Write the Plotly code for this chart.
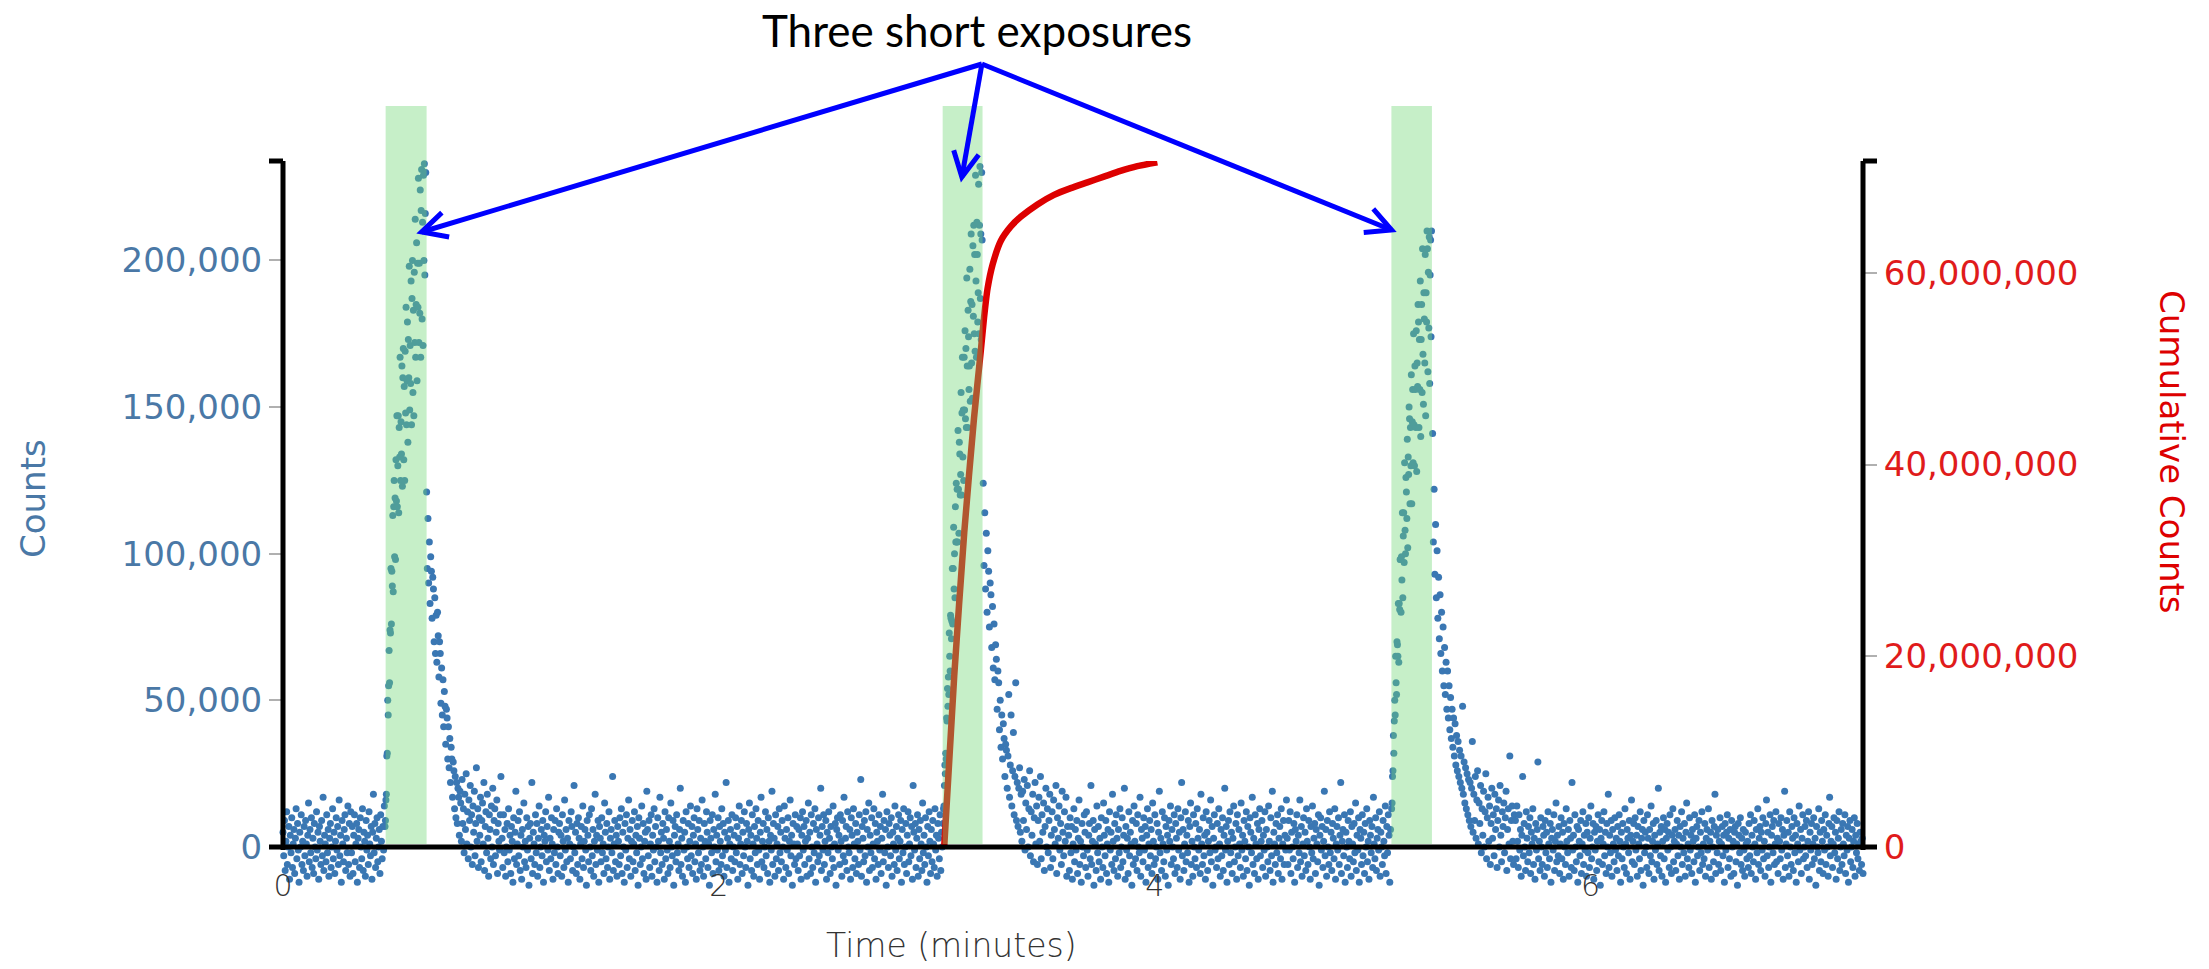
import numpy as np
import plotly.graph_objects as go

# ---------------- data (counts in thousands) ----------------
base_0 = [5, -3, 9, -8, 2, 12, -6, 0, 7, -11, 4, -2, 10, -7, 1, 6, -9, 3, 13, -4,
          8, -1, -12, 5, 0, 11, -6, 2, -8, 7, -3, 9, 1, -10, 4, 15, -5, 6, -2, 10,
          -7, 3, -9, 8, 0, -4, 12, -1, 5, -11, 7, 2, -6, 9, -3, 17, -8, 4, 1, -5,
          11, -2, 6, -10, 3, 8, -7, 0, 13, -4, 5, -9, 2, 10, -1, 7, -6, 16, -3, 4,
          -12, 9, 1, -5, 6, 11, -8, 3, -2, 14, -6, 8, -10, 12,
          -2, 7, -9, 4, 11, -5, 1, 8, -12, 3, 6, -7, 10, 0, -4, 13, -8, 5, 2, -10,
          9, -1, 4, -6, 12, 1, -3, 7, -11, 5, 18, -2, 8, -7, 3, 10, -5, 0, 6, -9,
          11, 2, -4, 7, -1, 14]
rise_1 = [7, 9, 16, 18, 31, 32, 50, 45, 55, 67, 56, 74, 73, 95, 76, 94, 89, 113, 87, 116,
          125, 99, 119, 98, 132, 118, 147, 116, 130, 147, 114, 143, 133, 167, 125, 145, 134, 164, 123, 160,
          170, 132, 157, 125, 169, 148, 184, 144, 159, 179, 138, 173, 160, 198, 149, 171, 158, 193, 144, 187,
          200, 155, 183, 147, 196, 172, 214, 167, 185, 206, 159, 199, 184, 228, 172, 199, 182, 224, 167, 217,
          231, 180, 213, 171, 229, 200, 233, 195, 216, 230]
decay_1 = [121, 95, 112, 90, 104, 83, 99, 94, 78, 92, 88, 70, 85, 66, 79, 63, 80, 72, 58, 70,
           66, 49, 61, 45, 57, 41, 53, 48, 35, 47, 44, 30, 41, 27, 37, 22, 34, 30, 17, 29,
           26, 13, 24, 10, 22, 8, 20, 17, 4, 19, 15, 2, 23, 8, 13, -2, 18, 6, 25, 1,
           12, -4, 16, 9, 21, 0, 11, -6, 14, 5, 19, -3, 8, 27, 2, 13, -7, 10, 4, 17,
           -5, 9, 15, 1, 22, -8, 7, 12, -2, 18, 3, -10, 11, 6, -4, 14, 0, 20, -6, 9,
           13, -3, 5, 16, -9, 8, 2, -1, 11, 24]
base_1 = [3, -7, 11, -2, 6, -10, 0, 8, -5, 13, -1, 4, -9, 7, 2, -12, 10, -4, 5, 19,
          -6, 1, 9, -3, 12, -8, 4, -11, 6, 0, 15, -5, 2, -7, 10, -1, 7, -13, 3, 8,
          -4, 22, -9, 5, 1, -6, 11, -2, 8, -10, 3, 14, -7, 0, 6, -3, 9, -12, 4, 2,
          12, -5, 7, -1, 17, -8, 3, -4, 10, 1, -11, 6, -2, 9, -6, 13, 0, -9, 5, 8,
          -3, 4, -10, 11, 2, -7, 16, -1, 6, -5, 3, -12, 9, 1, -4, 12, 7, -8, 0, 21,
          -2, 5, -9, 8, -6, 10, 3, -11, 1, 7, -4, 14, -7, 2, 6, -1, -13, 9, 4, -5,
          11, 0, -8, 13, -3, 6, -10, 2, 18, -6, 4, -1, 9, -12, 7, 3, -5, 10, -2, 1,
          -9, 15, 5, -4, 8, -7, 0, 12, -11, 3, 6, -2, 24, -8, 1, 9, -5, 4, -10, 7,
          2, -6, 10, -3, 13, -9, 5, 0, -12, 8, -1, 11, -7, 3, 16, -4, 6, -10, 2, 9,
          -5, 1, 12, -8, 4, -2, 7, -13, 10, 3, -6, 0, 14, -4, 8, -9, 2, 5, -11, 19,
          6, -3, 9, -7, 1, 11, -10, 4, -1, 13, -5, 7, 0, -12, 10, 2, -8, 17, -2, 5,
          -6, 8, 3, -11, 12, -4, 6, -1, -9, 10, 2, -7, 15, 0, -3, 9, -13, 4, 7, -5,
          11, -2, 1, -8, 6, 20, -6, 3, -10, 9, -1, 5, -12, 12, 0, -4, 8, -7, 2, 14,
          -3, 7, -9, 4, 10, -5, 1, -11, 13, 6, -2, 9, -8, 3, -6, 16, 0, -10, 8, 2,
          -4, 12, 5, -7, 1, -13, 9, 3, -2, 11, -9, 6, 0, 18, -5, 4, -1, 10, -8, 7,
          2, -6, 13, -3, 8, -10, 5, -1, 22, -7, 3, 9, -12, 1, 6, -4, 11, -8, 0, 4,
          -5, 10, -2, 7, -11, 3, 14, -6, 1, 9, -9, 5, -3, 12, 0, -7, 8, 2, -13, 6,
          15, -4, 4, -8, 11, 1, -10, 7, -2, 13, 3, -6, 9, -1, -11, 5, 17, -5, 2, 8,
          -7, 0, 12, -3, 6, -9, 10, 2, -12, 4, -1, 19, -6, 8, 3, -10, 11, -4, 1, 7,
          -8, 13, -2, 5, -5, 9, 0, -11, 14, 3, -7, 6, -1, 10, -9, 2, 16, -3, 4, -13,
          8, 1, -6, 11, -4, 7,
          1, -8, 6, -3, 10, -11, 4, 12, -1, 7, -6, 2, 9, -10, 3, 15, -4, 5, -9, 11,
          0, -7, 8, -2, 13, -12, 6, 1, -5, 10, -3, 4, 20, -8, 7, -1, 11, -6, 2, 9,
          -11, 5, -2, 12, 3, -9, 7, 0, -4, 14, -7, 1, 8, -13, 6, 10, -1, 4, -6, 11,
          2, -10, 9, -3, 17, -5, 3, 7, -8, 12, 0, -2, 6, -11, 10, 4, -7, 13, 1, -4,
          8, -9, 5, 2, -6, 11, -1, 23, -10, 7, 3, -5, 9, -3, 12, -12, 6, 0, 15, -8,
          4, -2, 10, -7, 1, 13, -4, 8, -11, 5, 2, -6, 11, -1, 7, -9, 3, 18, -5, 9,
          -2, 6, -13, 12, 0, -7, 8, 4, -3, 10, -10, 5, 1, -6, 14, -1, 7, -8, 3, 11,
          -4, 2, 9, -12, 6, -2, 13, -6, 0, 8, -9, 4, 12, -5, 1, 10, -3, 7, -11, 21,
          5, -1, 8, -7, 3, 11, -10, 6, -4, 9, 1, -8, 15, -2, 4, -6, 10, 0, -12, 7,
          -3, 12, 2, -9, 6, -5, 9, 1, -7, 13, -1, 4, -10, 8, 3, -4, 11, -8, 5, 0]
rise_2 = [8, 13, 14, 21, 28, 25, 32, 30, 44, 43, 54, 48, 58, 52, 73, 65, 60, 79, 78, 71,
          77, 95, 76, 95, 109, 88, 100, 85, 116, 104, 124, 104, 122, 104, 142, 122, 107, 138, 134, 120,
          127, 155, 120, 148, 167, 133, 149, 125, 167, 149, 176, 146, 170, 143, 194, 164, 143, 183, 174, 156,
          164, 197, 152, 186, 209, 165, 185, 153, 205, 181, 212, 175, 202, 169, 229, 193, 167, 213, 202, 179,
          189, 226, 175, 212, 232, 187, 209, 173, 230, 207]
decay_2 = [124, 96, 114, 88, 107, 80, 101, 94, 75, 90, 86, 68, 82, 61, 76, 57, 69, 64, 47, 60,
           56, 40, 50, 34, 45, 30, 42, 37, 24, 35, 33, 20, 31, 52, 17, 28, 45, 14, 26, 39,
           11, 24, 56, 9, 22, 7, 20, 27, 5, 18, 2, 19, 9, 23, -1, 15, 6, 21, 0, 13,
           26, -3, 12, 4, 18, -5, 10, 22, 1, 14, -6, 9, 17, 2, 24, -4, 11, 5, 15, -8,
           7, 20, 0, 13, -2, 9, 18, -7, 4, 12, -4, 16, 6, 1, 21, -9, 10, 3, 14, -1,
           8, -6, 19, 5, -3, 12, 2, 17, -10, 7]
base_2 = [4, -8, 10, -2, 7, -11, 1, 13, -5, 6, -1, 9, -9, 3, 16, -6, 2, -12, 8, 0,
          -3, 11, 5, -7, 12, -1, -10, 4, 8, -4, 21, -6, 2, 9, -13, 6, 1, -8, 14, -2,
          7, -5, 3, -11, 10, 0, -7, 15, 4, -3, 9, -9, 1, 6, -12, 12, -1, 5, -6, 18,
          2, -8, 8, -4, 11, 3, -10, 6, -2, 13, -7, 0, 10, -5, 4, 20, -11, 7, -1, 3,
          -9, 12, -3, 5, 1, -13, 9, -6, 14, 2, -4, 8, -8, 11, 0, -2, 17, -10, 6, 3,
          -5, 10, -1, 7, -12, 4, 13, -7, 1, 9, -3, 6, -9, 15, 2, -6, 11, -4, 0, 8,
          -11, 5, 19, -2, 3, -8, 12, 1, -5, 10, -10, 7, -1, 4, -13, 9, 2, 14, -6, 6,
          0, -4, 11, -9, 8, 3, -7, 13, -1, 5, -11, 10, 22, -3, 6, -8, 1, 12, -5, 4,
          -2, 9, -12, 7, 15, -6, 2, -10, 11, 0, -4, 8, -7, 13, 3, -1, 6, -9, 18, 1,
          -6, 10, -3, 4, -11, 12, 5, -8, 2, 9, -2, 16, -5, 7, -13, 3, 11, -1, 0, -7,
          8, -4, 13, 1, -10, 6, -3, 10, -8, 4, 20, -1, 7, -12, 2, 9, -6, 12, -2, 5,
          -9, 3, 14, -5, 0, 8, -11, 11, -3, 6, 1, -7, 15, -1, 4, -10, 9, 2, -4, 12,
          -8, 7, 0, -13, 10, 5, -2, 17, -6, 3, -9, 11, 1, -4, 8, -11, 6, 13, -3, 2,
          9, -7, 4, -1, 12, -10, 6, 0, -5, 14, 2, -8, 10, -3, 19, -12, 5, 1, -6, 8,
          -2, 11, -9, 3, 7, -4, 13, -11, 1, 9, -6, 4, -1, 16,
          3, -6, 9, -1, 12, -9, 5, 0, -4, 8, -12, 6, 2, 11, -7, 4, -2, 16, -5, 7,
          -10, 1, 10, -3, 5, -8, 13, 2, -6, 9, 0, -11, 7, -2, 14, -4, 3, 8, -9, 6,
          1, -5, 11, -13, 4, 10, -1, 7, -7, 2, 19, -3, 6, -10, 9, 0, -6, 12, -2, 5,
          -8, 8, 3, -4, 13, -11, 1, 7, -1, 10, -6, 4, 22, -9, 2, 6, -3, 11, -12, 5,
          0, -7, 9, 2, -4, 12, -10, 7, 1, -5, 8, -2, 15, -8, 4, -1, 10, -12, 6, 3,
          -6, 11, -3, 5, -9, 8, 0, 13, -5, 2, -11, 9, 4, -2, 7, -7, 17, 1, -4, 10,
          -8, 3, 6, -1, 12, -10, 5, 0, -6, 9, 2, -3, 14, -9, 7, -2, 11, 4, -12, 6]
rise_3 = [13, 15, 24, 26, 38, 32, 43, 50, 45, 65, 56, 52, 70, 69, 65, 83, 63, 83, 81, 98,
          98, 80, 99, 91, 114, 85, 106, 114, 97, 131, 108, 100, 126, 121, 112, 139, 102, 133, 127, 150,
          146, 117, 143, 130, 161, 117, 145, 156, 131, 175, 144, 130, 164, 156, 143, 176, 128, 165, 157, 185,
          179, 143, 173, 156, 193, 140, 173, 185, 155, 204, 168, 151, 189, 180, 165, 202, 147, 189, 179, 210,
          204, 162, 196, 177, 208, 158, 195, 207, 174, 210]
decay_3 = [141, 104, 122, 93, 110, 85, 101, 78, 92, 71, 86, 66, 80, 60, 75, 55, 68, 52, 63, 47,
           60, 44, 55, 40, 51, 37, 47, 34, 44, 31, 42, 28, 38, 26, 36, 24, 33, 22, 31, 20,
           48, 18, 29, 15, 27, 13, 25, 11, 23, 9, 22, 7, 20, 36, 5, 18, 9, 24, 3, 16,
           26, 1, 15, 8, 21, -2, 13, 4, 19, 0, 12, 25, -4, 10, 17, 2, 14, -6, 8, 20,
           3, 11, -3, 18, 6, 13, -7, 9, 16, 0, 21, 4, -5, 12, 7, 15, -2, 10, 19, -8,
           6, 13, 1, 31, -4, 9, 14, 2, -6, 11]
base_3 = [9, -4, 14, 2, -7, 11, -1, 6, -10, 4, 24, -3, 8, 0, -8, 12, 3, -5, 7, -2,
          10, -9, 5, 1, 13, -6, 3, -11, 8, -1, 6, 29, -4, 2, -8, 10, 0, -6, 7, 4,
          -10, 9, -2, 5, -7, 12, 1, -4, 8, -12, 3, 6, -1, 11, -8, 2, 15, -5, 4, -3,
          7, -9, 1, 10, -4, 5, -11, 8, 0, -6, 13, 2, -2, 6, -10, 9, 3, -7, 22, -1,
          4, -8, 11, 0, -5, 7, -12, 6, 2, -3, 9, -9, 1, 12, -6, 4, -1, 8, -10, 5,
          -2, 10, -7, 3, 14, -4, 0, 8, -11, 5, -1, 7, -8, 2, 11, -5, 6, -13, 3, 9,
          -6, 1, 12, -3, 5, -9, 8, 0, 18, -7, 4, -2, 9, -10, 6, 1, -5, 10, -1, 3,
          -8, 7, -3, 11, 2, -12, 5, -4, 8, 0, -7, 13, 1, -9, 6, 3, -2, 9, -11, 4,
          16, -5, 2, 8, -6, 10, -1, 4, -10, 7, 1, -4, 12, -8, 3, 6, -13, 9, -2, 5,
          0, -7, 11, 3, -9, 6, -3, 14, -5, 2, 8, -11, 4, -1, 9, -6, 1, 20, -8, 5,
          -3, 7, -10, 2, 10, -4, 6, -12, 3, 8, -1, 5, -7, 11, 0, -9, 4, 13, -5, 2,
          6, -8, 1, 9, -3, 4, -11, 7, 0, 12, -6, 3, -2, 8, -10, 5, 15, -4, 1, -7,
          10, -1, 4, -9, 6, 2, -5, 11, -12, 3, 7, -3, 0, 9, -8, 5, -2, 12, -6, 1,
          -4, 8, -10, 3, 6, -1, 13, -7, 2, 5, -11, 9, 0, -5, 7, 18, -9, 4, -2, 6,
          -6, 2, 10, -8, 1, 7, -3, 4, -12, 8, -1, 5, 11, -7, 3, -4, 6, -10, 9, 0,
          2, -9, 5, 7, -5, 1, -13, 8, 4, -2, 10, -6, 3, -8, 6, -1, -10, 5, 1, -4,
          2, -7, 8, -3, 11, -9, 4, 0, -5, 9, 1, -11, 6, -2, 13, -6, 3, 7, -8, 5,
          -1, 10, -4, 2, -10, 8, 16, -3, 5, -7, 0, 11, -12, 4, 7, -2, 9, -6, 1, 12,
          -5, 3, -9, 8, 2, -4, 10, -1, 6, -11, 4, 19, -7, 1, 9, -3, 5, -10, 12, 0,
          -6, 7, 3, -8, 10, -2, 4, -12, 8, 1, -5, 14, -1, 6, -9, 3, 11, -4, 0, 7,
          -3, 9, -7, 2, 12, -11, 5, -1, 8, -6, 1, 10, -4, 3, -13, 7, 0, -2, 13, -8,
          5, -5, 9, 2, -9, 6, -1, 11, -6, 4, 0, -10, 8, 17, -3, 2, 7, -7, 1, 10,
          -2, 5, -11, 9, -4, 3, 12, -8, 0, 6, -6, 8, 1, -3, 11, -9, 4, -1, 7, -12,
          3, 9, -5, 0, 6, -7, 2, 10, -10, 4, -2, 8, -4, 1, -8, 5, 2, -6, 3, -9]

# time span (minutes) covered by each segment above
segment_spans = [(0.000, 0.465), (0.468, 0.655), (0.659, 1.000), (1.005, 3.025),
                 (3.029, 3.208), (3.213, 3.600), (3.605, 5.082), (5.087, 5.270),
                 (5.275, 5.650), (5.655, 7.250)]
segments = [base_0, rise_1, decay_1, base_1, rise_2, decay_2, base_2, rise_3, decay_3, base_3]

# cumulative counts (millions) for the middle exposure
cum_time = [3.034, 3.080, 3.126, 3.171, 3.202, 3.217, 3.233, 3.256, 3.294, 3.340,
            3.385, 3.462, 3.538, 3.615, 3.691, 3.767, 3.843, 3.920, 4.012]
cum_millions = [0, 17.9, 32.9, 44.9, 51.9, 55.4, 58.4, 60.9, 63.4, 64.9,
                65.9, 67.2, 68.2, 68.9, 69.5, 70.1, 70.7, 71.2, 71.6]

# exposure windows (minutes)
exposure_windows = [(0.471, 0.659), (3.027, 3.210), (5.086, 5.272)]

# annotation arrows: common origin and the three tips (minutes, counts)
arrow_origin = (3.207, 266970)
arrow_tips = [(0.636, 209690), (3.115, 228440), (5.087, 210370)]

x_ticks = [0, 2, 4, 6]
y_ticks = [0, 50000, 100000, 150000, 200000]
y2_ticks = [0, 20e6, 40e6, 60e6]

# ---------------- build ----------------
time = np.concatenate([np.linspace(a, b, len(v)) for (a, b), v in zip(segment_spans, segments)])
counts = np.concatenate([np.asarray(v, float) * 1000 for v in segments])
cum_counts = np.asarray(cum_millions) * 1e6

W, H = 2209, 969
ML, MR, MT, MB = 283, 346, 161, 74
PW, PH = W - ML - MR, H - MT - MB          # 1580 x 734
YMAX = 233900
ZERO_PX = 686                               # pixels from top of plot to the zero line
YMIN = -(PH - ZERO_PX) * YMAX / ZERO_PX
XR = [0, 7.25]
YR = [YMIN, YMAX]
Y2MAX = 71.74e6
Y2R = [YMIN / YMAX * Y2MAX, Y2MAX]

BLUE_TXT = '#4a78a6'
RED = '#dd0000'

fig = go.Figure()
fig.add_trace(go.Scatter(
    x=time, y=counts, mode='markers', cliponaxis=False,
    marker=dict(size=7, color='#3a77b3', line=dict(width=0)),
    hoverinfo='skip'))
fig.add_trace(go.Scatter(
    x=cum_time, y=cum_counts, yaxis='y2', mode='lines', cliponaxis=False,
    line=dict(color=RED, width=6.5, shape='spline', smoothing=0.6),
    hoverinfo='skip'))


def to_paper(x, y):
    return (x - XR[0]) / (XR[1] - XR[0]), (y - YR[0]) / (YR[1] - YR[0])


_, y_zero = to_paper(0, 0)

shapes = []
for a, b in exposure_windows:
    shapes.append(dict(type='rect', xref='x', yref='paper', x0=a, x1=b,
                       y0=y_zero + 3 / PH, y1=y_zero + (ZERO_PX + 55) / PH,
                       fillcolor='rgba(112,215,117,0.4)', line=dict(width=0), layer='above'))

ox, oy = to_paper(*arrow_origin)
for tx, ty in arrow_tips:
    px, py = to_paper(tx, ty)
    shapes.append(dict(type='line', xref='paper', yref='paper', x0=ox, y0=oy, x1=px, y1=py,
                       line=dict(color='#0000ff', width=5), layer='above'))
    # open V arrow head computed in pixel space
    dx, dy = (ox - px) * PW, (oy - py) * PH
    n = np.hypot(dx, dy)
    ux, uy = dx / n, dy / n
    pts = []
    for ang in (np.radians(27), -np.radians(27)):
        rx = ux * np.cos(ang) - uy * np.sin(ang)
        ry = ux * np.sin(ang) + uy * np.cos(ang)
        pts.append((px + rx * 28 / PW, py + ry * 28 / PH))
    path = f"M {pts[0][0]},{pts[0][1]} L {px},{py} L {pts[1][0]},{pts[1][1]}"
    shapes.append(dict(type='path', xref='paper', yref='paper', path=path,
                       line=dict(color='#0000ff', width=5), layer='above'))

# axis lines (zero line with end caps, left and right vertical axes with top caps)
cap = 14 / PW
axis_lines = [(-cap, 1 + cap, y_zero, y_zero),
              (0, 0, y_zero - 3 / PH, 1), (1, 1, y_zero - 3 / PH, 1),
              (-cap, 0, 1, 1), (1, 1 + cap, 1, 1)]
for x0, x1, y0, y1 in axis_lines:
    shapes.append(dict(type='line', xref='paper', yref='paper', x0=x0, x1=x1, y0=y0, y1=y1,
                       line=dict(color='black', width=5), layer='above'))

annotations = [
    dict(text='Three short exposures', xref='paper', yref='paper', x=(977 - ML) / PW,
         y=(H - MB - 30) / PH, showarrow=False, xanchor='center', yanchor='middle',
         font=dict(family='Lato', size=44, color='black')),
    dict(text='Counts', xref='paper', yref='paper', x=(33 - ML) / PW, y=(H - MB - 498) / PH,
         showarrow=False, textangle=-90, xanchor='center', yanchor='middle',
         font=dict(family='DejaVu Sans', size=34, color=BLUE_TXT)),
    dict(text='Cumulative Counts', xref='paper', yref='paper', x=(2172 - ML) / PW,
         y=(H - MB - 452) / PH, showarrow=False, textangle=90, xanchor='center', yanchor='middle',
         font=dict(family='DejaVu Sans', size=34, color=RED)),
    dict(text='Time (minutes)', xref='paper', yref='paper', x=(951 - ML) / PW,
         y=(H - MB - 945) / PH, showarrow=False, xanchor='center', yanchor='middle',
         font=dict(family='DejaVu Sans', size=33, color='#333333', weight=300)),
]

fig.update_layout(
    width=W, height=H, showlegend=False,
    margin=dict(l=ML, r=MR, t=MT, b=MB, autoexpand=False),
    paper_bgcolor='white', plot_bgcolor='white',
    shapes=shapes, annotations=annotations,
    xaxis=dict(range=XR, tickvals=x_ticks, showgrid=False, zeroline=False,
               showline=False, ticks='', ticklabelstandoff=-30,
               tickfont=dict(family='DejaVu Sans', size=30, color='#333333', weight=300)),
    yaxis=dict(range=YR, tickvals=y_ticks, tickformat=',', showgrid=False, zeroline=False,
               showline=False, ticks='outside', ticklen=13,
               tickwidth=1.5, tickcolor='#b0b0b0',
               tickfont=dict(family='DejaVu Sans', size=34, color=BLUE_TXT)),
    yaxis2=dict(range=Y2R, tickvals=y2_ticks, tickformat=',', overlaying='y', side='right',
                showgrid=False, zeroline=False, showline=False,
                ticks='outside', ticklen=13, tickwidth=1.5, tickcolor='#b0b0b0',
                tickfont=dict(family='DejaVu Sans', size=34, color='#e01b1b')),
)

fig.write_html("out.html", config={'displayModeBar': False},
               post_script="document.body.style.margin='0';document.body.style.overflow='hidden';"
                           "document.documentElement.style.overflow='hidden';")
